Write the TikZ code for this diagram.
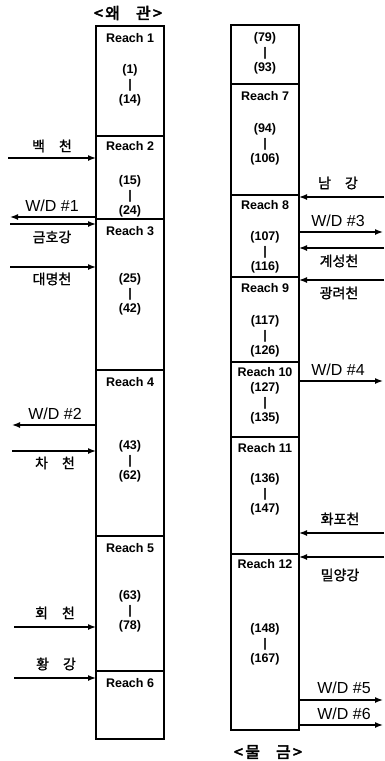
\documentclass[tikz,border=0pt]{standalone}
\usepackage{fontspec}
\setmainfont{Liberation Sans}
\newfontfamily\kr[FakeBold=1.2]{Noto Sans CJK KR}
\newfontfamily\krb[FakeBold=3]{Noto Sans CJK KR}
\usetikzlibrary{arrows.meta}
\begin{document}
\begin{tikzpicture}[x=1pt,y=-1pt,
  seg/.style={draw, line width=1.4pt, minimum width=68pt, inner sep=0pt, anchor=north west, outer sep=0pt},
  rlab/.style={font=\bfseries\fontsize{12.5}{14}\selectfont, inner sep=0pt},
  rng/.style={font=\bfseries\fontsize{12.5}{15}\selectfont, align=center, inner sep=0pt},
  wd/.style={font=\fontsize{16}{18}\selectfont, inner sep=0pt},
  kl/.style={font=\kr\fontsize{14}{16}\selectfont, inner sep=0pt},
  ttl/.style={font=\krb\fontsize{16}{18}\selectfont, inner sep=0pt},
  flow/.style={line width=1.4pt, -{Latex[length=8pt,width=6pt]}},
]
\useasboundingbox (0,0) rectangle (384,761);
% titles
\node[ttl] (t1) at (128,13) {<\hspace{0.15em}왜\hspace{1em}관\hspace{0.15em}>};
\node[ttl] (t2) at (268,752) {<\hspace{0.15em}물\hspace{1em}금\hspace{0.15em}>};
% left column
\node[seg, minimum height=110pt] (r1) at (96,26) {};
\node[seg, minimum height=83pt] (r2) at (96,136) {};
\node[seg, minimum height=151pt] (r3) at (96,219) {};
\node[seg, minimum height=166pt] (r4) at (96,370) {};
\node[seg, minimum height=135pt] (r5) at (96,536) {};
\node[seg, minimum height=68pt] (r6) at (96,671) {};
% right column
\node[seg, minimum height=59pt] (r6b) at (231,25) {};
\node[seg, minimum height=111pt] (r7) at (231,84) {};
\node[seg, minimum height=82pt] (r8) at (231,195) {};
\node[seg, minimum height=85pt] (r9) at (231,277) {};
\node[seg, minimum height=75pt] (r10) at (231,362) {};
\node[seg, minimum height=117pt] (r11) at (231,437) {};
\node[seg, minimum height=176pt] (r12) at (231,554) {};
% reach labels
\node[rlab] (l1) at (130,38) {Reach 1};
\node[rlab] (l2) at (130,146) {Reach 2};
\node[rlab] (l3) at (130,231) {Reach 3};
\node[rlab] (l4) at (130,382) {Reach 4};
\node[rlab] (l5) at (130,548) {Reach 5};
\node[rlab] (l6) at (130,683) {Reach 6};
\node[rlab] (l7) at (265,96) {Reach 7};
\node[rlab] (l8) at (265,205) {Reach 8};
\node[rlab] (l9) at (265,288) {Reach 9};
\node[rlab] (l10) at (265,372) {Reach 10};
\node[rlab] (l11) at (265,448) {Reach 11};
\node[rlab] (l12) at (265,564) {Reach 12};
% ranges
\node[rng] (n1) at (130,85.5) {(1)\\|\\(14)};
\node[rng] (n2) at (130,196) {(15)\\|\\(24)};
\node[rng] (n3) at (130,294) {(25)\\|\\(42)};
\node[rng] (n4) at (130,461) {(43)\\|\\(62)};
\node[rng] (n5) at (130,611.5) {(63)\\|\\(78)};
\node[rng] (n6) at (265,53.5) {(79)\\|\\(93)};
\node[rng] (n7) at (265,144) {(94)\\|\\(106)};
\node[rng] (n8) at (265,252.5) {(107)\\|\\(116)};
\node[rng] (n9) at (265,336) {(117)\\|\\(126)};
\node[rng] (n10) at (265,403.5) {(127)\\|\\(135)};
\node[rng] (n11) at (265,494.5) {(136)\\|\\(147)};
\node[rng] (n12) at (265,644) {(148)\\|\\(167)};
% left side flows
\coordinate (a1) at (8,158);
\coordinate (a2) at (10,217);
\coordinate (a3) at (10,224);
\coordinate (a4) at (10,267);
\coordinate (a5) at (12,425);
\coordinate (a6) at (12,451);
\coordinate (a7) at (14,627);
\coordinate (a8) at (14,678);
\draw[flow] (a1) -- (a1 -| r2.west);
\draw[flow] (a2 -| r2.west) -- (a2);
\draw[flow] (a3) -- (a3 -| r3.west);
\draw[flow] (a4) -- (a4 -| r3.west);
\draw[flow] (a5 -| r4.west) -- (a5);
\draw[flow] (a6) -- (a6 -| r4.west);
\draw[flow] (a7) -- (a7 -| r5.west);
\draw[flow] (a8) -- (a8 -| r6.west);
\node[kl] (k1) at (52,146) {백\hspace{1em}천};
\node[wd] (w1) at (52,206) {W/D \#1};
\node[kl] (k2) at (52,237) {금호강};
\node[kl] (k3) at (52,279) {대명천};
\node[wd] (w2) at (55,414) {W/D \#2};
\node[kl] (k4) at (55,463) {차\hspace{1em}천};
\node[kl] (k5) at (55,613) {회\hspace{1em}천};
\node[kl] (k6) at (56,664) {황\hspace{1em}강};
% right side flows
\coordinate (b1) at (384,197);
\coordinate (b2) at (383,232);
\coordinate (b3) at (384,248);
\coordinate (b4) at (384,280);
\coordinate (b5) at (383,381);
\coordinate (b6) at (384,533);
\coordinate (b7) at (384,557);
\coordinate (b8) at (383,700);
\coordinate (b9) at (383,725);
\draw[flow] (b1) -- (b1 -| r8.east);
\draw[flow] (b2 -| r8.east) -- (b2);
\draw[flow] (b3) -- (b3 -| r8.east);
\draw[flow] (b4) -- (b4 -| r9.east);
\draw[flow] (b5 -| r10.east) -- (b5);
\draw[flow] (b6) -- (b6 -| r11.east);
\draw[flow] (b7) -- (b7 -| r12.east);
\draw[flow] (b8 -| r12.east) -- (b8);
\draw[flow] (b9 -| r12.east) -- (b9);
\node[kl] (k7) at (338,183) {남\hspace{1em}강};
\node[wd] (w3) at (338,221) {W/D \#3};
\node[kl] (k8) at (339,261) {계성천};
\node[kl] (k9) at (339,293) {광려천};
\node[wd] (w4) at (338,370) {W/D \#4};
\node[kl] (k10) at (340,519) {화포천};
\node[kl] (k11) at (340,575) {밀양강};
\node[wd] (w5) at (344,688) {W/D \#5};
\node[wd] (w6) at (344,714) {W/D \#6};
\end{tikzpicture}
\end{document}
